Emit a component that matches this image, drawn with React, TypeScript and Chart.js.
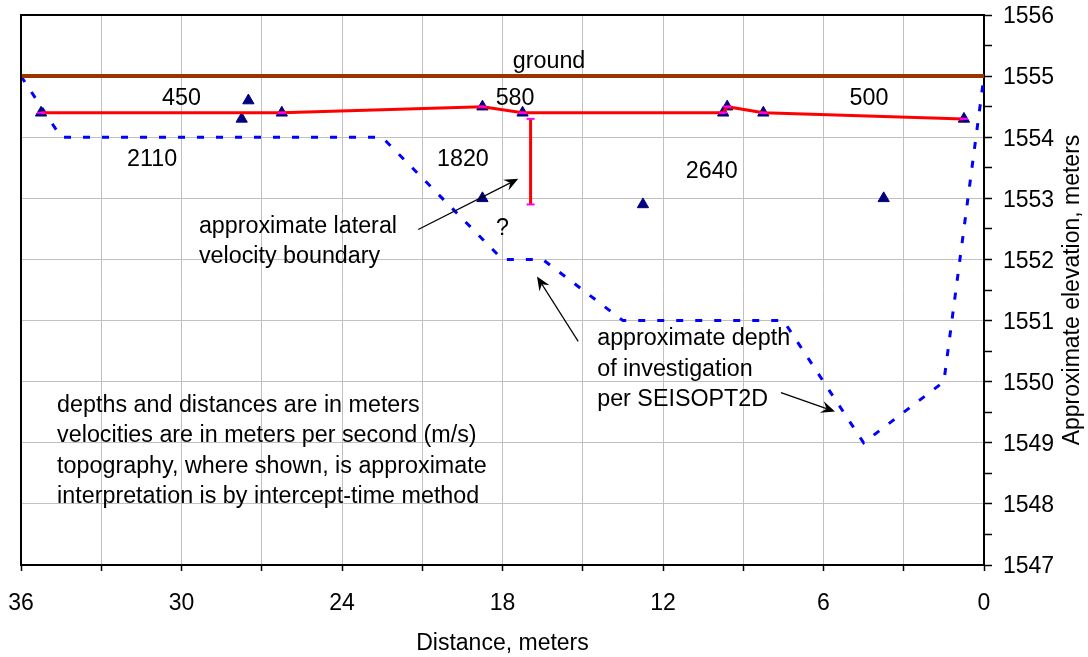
import React, { useEffect, useRef } from "react";
import { Chart, registerables } from "chart.js";

Chart.register(...registerables);

const FONT = "'Liberation Sans', Arial, Helvetica, sans-serif";

// ---- data ----
const groundX = [36, 0];
const groundY = [1555, 1555];

const layer1X = [35.25, 26.25, 18.75, 17.25, 9.75, 9.6, 8.25, 0.75];
const layer1Y = [1554.4, 1554.4, 1554.5, 1554.4, 1554.4, 1554.5, 1554.4, 1554.3];

const boundaryX = [16.95, 16.95];
const boundaryY = [1554.3, 1552.9];

const depthX = [36, 34.5, 22.5, 18, 16.5, 13.5, 7.5, 4.5, 1.5, 0];
const depthY = [1555, 1554, 1554, 1552, 1552, 1551, 1551, 1549, 1550, 1555];

const pointX = [35.25, 27.75, 27.5, 26.25, 18.75, 18.75, 17.25, 12.75, 9.75, 9.6, 8.25, 3.75, 0.75];
const pointY = [1554.4, 1554.3, 1554.6, 1554.4, 1554.5, 1553.0, 1554.4, 1552.9, 1554.4, 1554.5, 1554.4, 1553.0, 1554.3];

const xMin = 0;
const xMax = 36;
const xGridStep = 3;
const xLabelStep = 6;
const yMin = 1547;
const yMax = 1556;
const yTickStep = 0.5;

const xTitle = "Distance, meters";
const yTitle = "Approximate elevation, meters";

// annotation texts (data coordinates)
const noteTexts = [
  { text: "ground", x: 16.26, y: 1555.24, align: "center" },
  { text: "450", x: 30.0, y: 1554.63, align: "center" },
  { text: "580", x: 17.53, y: 1554.63, align: "center" },
  { text: "500", x: 4.3, y: 1554.63, align: "center" },
  { text: "2110", x: 31.1, y: 1553.63, align: "center" },
  { text: "1820", x: 19.48, y: 1553.63, align: "center" },
  { text: "2640", x: 10.18, y: 1553.44, align: "center" },
  { text: "?", x: 18.0, y: 1552.51, align: "center" },
  { text: "approximate lateral", x: 29.35, y: 1552.53, align: "left" },
  { text: "velocity boundary", x: 29.35, y: 1552.05, align: "left" },
  { text: "approximate depth", x: 14.46, y: 1550.7, align: "left" },
  { text: "of investigation", x: 14.46, y: 1550.2, align: "left" },
  { text: "per SEISOPT2D", x: 14.46, y: 1549.71, align: "left" },
  { text: "depths and distances are in meters", x: 34.65, y: 1549.61, align: "left" },
  { text: "velocities are in meters per second (m/s)", x: 34.65, y: 1549.12, align: "left" },
  { text: "topography, where shown, is approximate", x: 34.65, y: 1548.61, align: "left" },
  { text: "interpretation is by intercept-time method", x: 34.65, y: 1548.12, align: "left" },
];

const arrows = [
  { x1: 21.15, y1: 1552.49, x2: 17.41, y2: 1553.32 },
  { x1: 15.17, y1: 1550.66, x2: 16.71, y2: 1551.72 },
  { x1: 7.59, y1: 1549.82, x2: 5.57, y2: 1549.51 },
];

const toPts = (xs: number[], ys: number[]) => xs.map((x, i) => ({ x, y: ys[i] }));

const zeroPad = (s: any) => {
  s.paddingLeft = 0;
  s.paddingRight = 0;
  s.paddingTop = 0;
  s.paddingBottom = 0;
};

const annotationPlugin = {
  id: "annotationPlugin",
  afterDraw(chart: any) {
    const { ctx, chartArea } = chart;
    const xs = chart.scales.x;
    const ys = chart.scales.y;
    ctx.save();
    // top & left frame
    ctx.strokeStyle = "#000";
    ctx.lineWidth = 2;
    ctx.beginPath();
    ctx.moveTo(chartArea.left, chartArea.bottom);
    ctx.lineTo(chartArea.left, chartArea.top);
    ctx.lineTo(chartArea.right, chartArea.top);
    ctx.stroke();

    ctx.fillStyle = "#000";
    ctx.font = `23.3px ${FONT}`;
    ctx.textBaseline = "middle";
    for (const t of noteTexts) {
      ctx.textAlign = t.align as CanvasTextAlign;
      ctx.fillText(t.text, xs.getPixelForValue(t.x), ys.getPixelForValue(t.y));
    }

    // arrows
    ctx.lineWidth = 1.2;
    for (const a of arrows) {
      const x1 = xs.getPixelForValue(a.x1);
      const y1 = ys.getPixelForValue(a.y1);
      const x2 = xs.getPixelForValue(a.x2);
      const y2 = ys.getPixelForValue(a.y2);
      const ang = Math.atan2(y2 - y1, x2 - x1);
      const L = 14;
      const W = 6;
      const back = 9;
      ctx.beginPath();
      ctx.moveTo(x1, y1);
      ctx.lineTo(x2 - Math.cos(ang) * back, y2 - Math.sin(ang) * back);
      ctx.stroke();
      const bx = x2 - Math.cos(ang) * L;
      const by = y2 - Math.sin(ang) * L;
      const nx = -Math.sin(ang);
      const ny = Math.cos(ang);
      ctx.beginPath();
      ctx.moveTo(x2, y2);
      ctx.lineTo(bx + nx * W, by + ny * W);
      ctx.lineTo(x2 - Math.cos(ang) * back, y2 - Math.sin(ang) * back);
      ctx.lineTo(bx - nx * W, by - ny * W);
      ctx.closePath();
      ctx.fill();
    }

    // right-hand axis title, reading bottom-to-top
    ctx.font = `23px ${FONT}`;
    ctx.translate(chart.width - 9, (chartArea.top + chartArea.bottom) / 2);
    ctx.rotate(-Math.PI / 2);
    ctx.textAlign = "center";
    ctx.textBaseline = "alphabetic";
    ctx.fillText(yTitle, 0, 0);
    ctx.restore();
  },
};

export default function App() {
  const ref = useRef<HTMLCanvasElement | null>(null);

  useEffect(() => {
    if (!ref.current) return;
    Chart.defaults.font.family = FONT;
    Chart.defaults.color = "#000";
    const chart = new Chart(ref.current, {
      type: "scatter",
      data: {
        datasets: [
          {
            label: "depth of investigation",
            data: toPts(depthX, depthY),
            showLine: true,
            borderColor: "#0000FF",
            borderWidth: 3,
            borderDash: [7, 12],
            pointRadius: 0,
            order: 5,
          },
          {
            label: "ground",
            data: toPts(groundX, groundY),
            showLine: true,
            borderColor: "#993300",
            borderWidth: 4,
            pointRadius: 0,
            order: 4,
          },
          {
            label: "layer 1",
            data: toPts(layer1X, layer1Y),
            showLine: true,
            borderColor: "#FF0000",
            borderWidth: 3,
            pointStyle: "line",
            pointRadius: 4,
            pointBorderColor: "#FF00FF",
            pointBorderWidth: 2,
            order: 2,
          },
          {
            label: "boundary",
            data: toPts(boundaryX, boundaryY),
            showLine: true,
            borderColor: "#FF0000",
            borderWidth: 3,
            pointStyle: "line",
            pointRadius: 4,
            pointBorderColor: "#FF00FF",
            pointBorderWidth: 2,
            order: 2,
          },
          {
            label: "stations",
            data: toPts(pointX, pointY),
            showLine: false,
            pointStyle: "triangle",
            pointRadius: 6.5,
            pointBackgroundColor: "#000080",
            pointBorderColor: "#000080",
            pointBorderWidth: 1,
            order: 3,
          },
        ],
      },
      options: {
        responsive: false,
        animation: false,
        events: [],
        layout: { padding: { left: 21, top: 15, right: 0, bottom: 0 } },
        plugins: {
          legend: { display: false },
          tooltip: { enabled: false },
        },
        scales: {
          x: {
            type: "linear",
            position: "bottom",
            reverse: true,
            min: xMin,
            max: xMax,
            afterFit: (s: any) => {
              s.height = 92;
              zeroPad(s);
            },
            ticks: {
              stepSize: xGridStep,
              autoSkip: false,
              maxRotation: 0,
              padding: 19,
              font: { size: 23 },
              color: "#000",
              callback: (v: any) => (Number(v) % xLabelStep === 0 ? String(v) : ""),
            },
            grid: {
              color: "#c0c0c0",
              lineWidth: 1,
              tickColor: "#000",
              tickLength: 6,
              tickWidth: 1.5,
            },
            border: { color: "#000", width: 2 },
            title: {
              display: true,
              text: xTitle,
              font: { size: 23 },
              color: "#000",
              padding: { top: 0, bottom: 0 },
            },
          },
          y: {
            type: "linear",
            position: "right",
            min: yMin,
            max: yMax,
            afterFit: (s: any) => {
              s.width = 104;
              zeroPad(s);
            },
            ticks: {
              stepSize: yTickStep,
              autoSkip: false,
              padding: 11,
              labelOffset: 2,
              font: { size: 23 },
              color: "#000",
              callback: (v: any) => (Number(v) % 1 === 0 ? String(v) : ""),
            },
            grid: {
              color: (c: any) => (c.tick && c.tick.value % 1 === 0 ? "#c0c0c0" : "rgba(0,0,0,0)"),
              lineWidth: 1,
              tickColor: "#000",
              tickLength: 8,
              tickWidth: 1.5,
            },
            border: { color: "#000", width: 2 },
          },
        },
      },
      plugins: [annotationPlugin],
    } as any);
    return () => chart.destroy();
  }, []);

  return (
    <div style={{ position: "absolute", left: 0, top: 0, width: 1088, height: 657, background: "#fff" }}>
      <canvas ref={ref} width={1088} height={657} />
    </div>
  );
}
